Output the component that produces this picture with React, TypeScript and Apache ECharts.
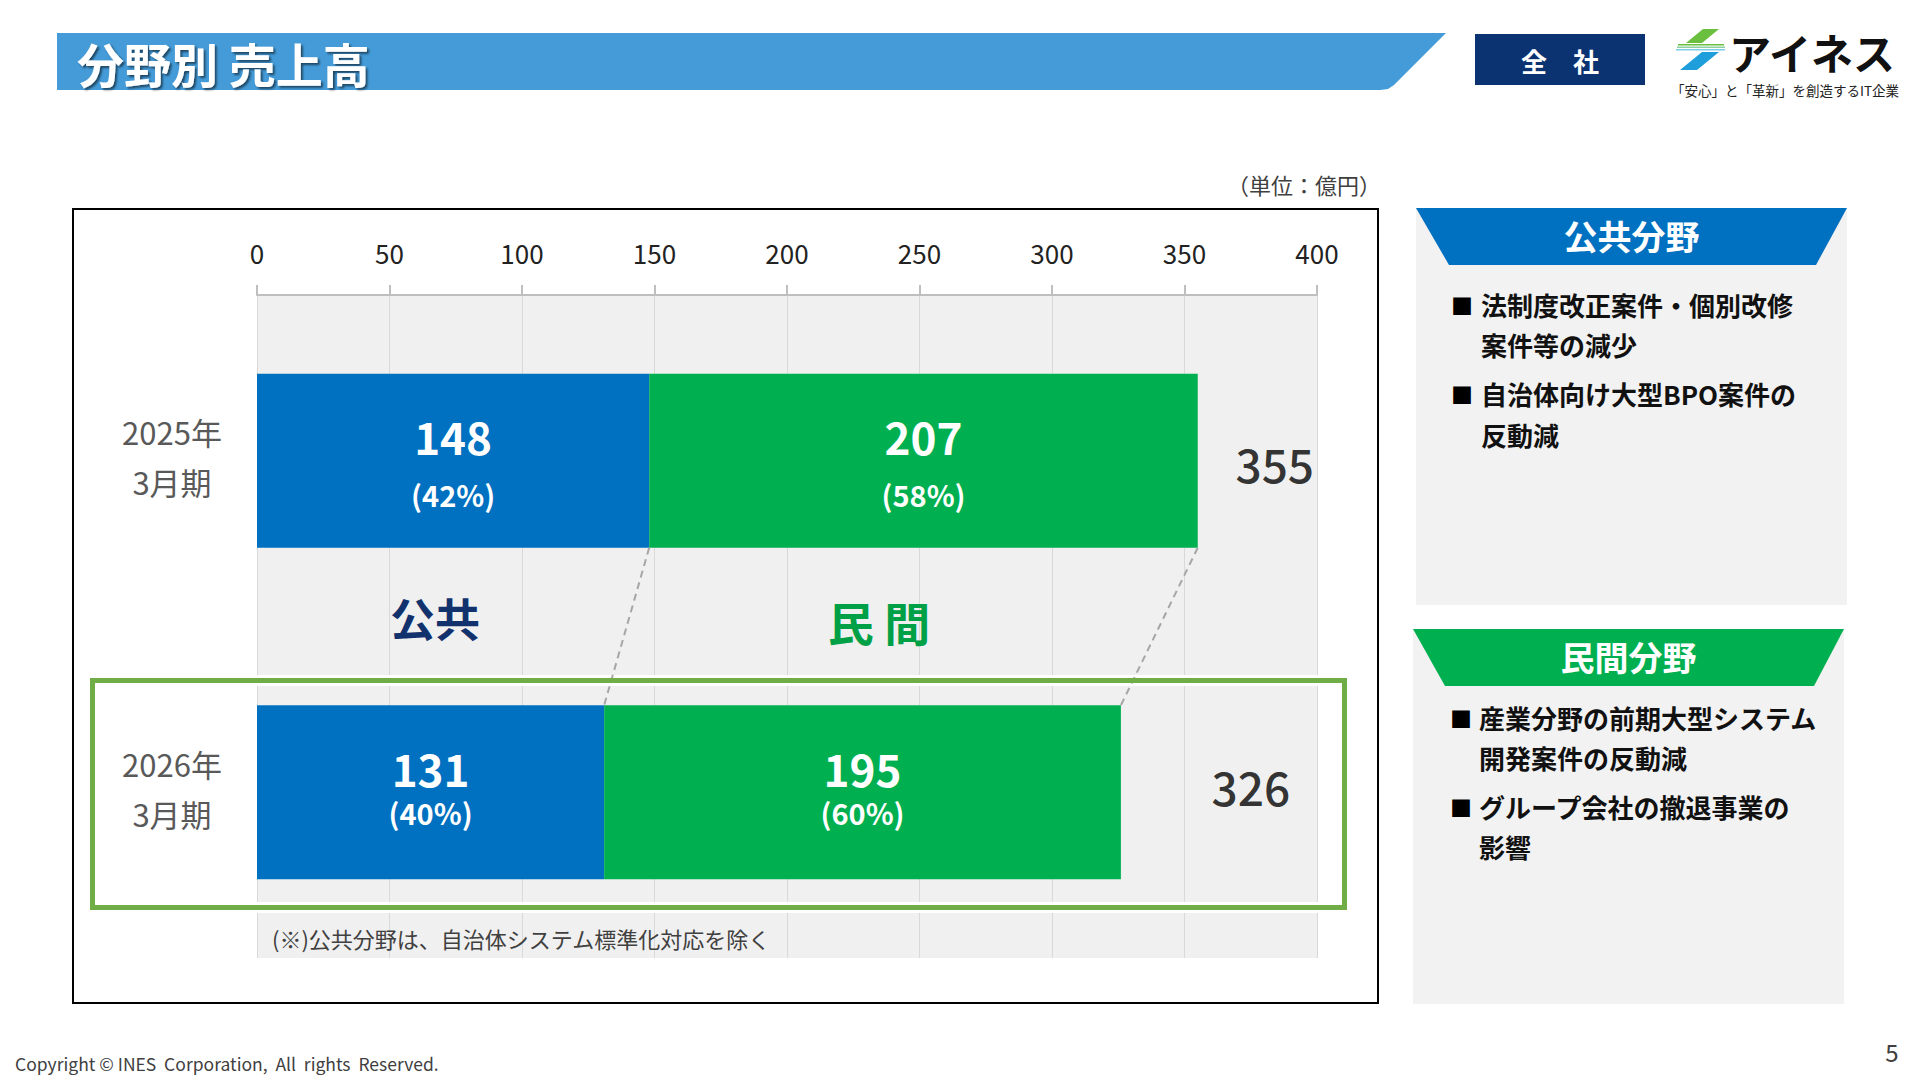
import React, { useEffect, useRef } from "react";
import * as echarts from "echarts";

// ---- data ----
const categories = ["2025年\n3月期", "2026年\n3月期"];
const publicValues = [148, 131];
const privateValues = [207, 195];
const totals = [355, 326];
const publicShares = ["42%", "40%"];
const privateShares = ["58%", "60%"];
const xMin = 0;
const xMax = 400;
const xInterval = 50;

const publicBullets = [
  ["法制度改正案件・個別改修", "案件等の減少"],
  ["自治体向け大型BPO案件の", "反動減"],
];
const privateBullets = [
  ["産業分野の前期大型システム", "開発案件の反動減"],
  ["グループ会社の撤退事業の", "影響"],
];

const FONT = "'Noto Sans CJK JP', 'Noto Sans', sans-serif";
const BAR_WIDTH = 174;
const labelLineHeights = [58, 44];
const labelOffsets = [4, -2];
const totalOffsets = [
  [77, 2],
  [130, -6],
];

function txt(x: number, y: number, text: string, opts: any = {}, z = 10) {
  return {
    type: "text",
    x,
    y,
    z,
    silent: true,
    style: {
      text,
      fontFamily: FONT,
      fontSize: 20,
      fill: "#000",
      align: "left",
      verticalAlign: "middle",
      ...opts,
    },
  };
}

function barLabel(i: number, share: string) {
  const lh = labelLineHeights[i];
  return {
    show: true,
    position: "inside",
    offset: [0, labelOffsets[i]],
    formatter: (p: any) => `{v|${p.value}}\n{p|(${share})}`,
    rich: {
      v: { fontSize: 44, fontWeight: "bold", color: "#fff", lineHeight: lh, fontFamily: FONT },
      p: { fontSize: 29, fontWeight: "bold", color: "#fff", lineHeight: lh, fontFamily: FONT },
    },
  };
}

function panel(
  x: number,
  y: number,
  w: number,
  h: number,
  headH: number,
  inset: number,
  color: string,
  title: string,
  bullets: string[][],
  bulletX: number,
  textX: number,
  lineCenters: number[]
) {
  const els: any[] = [
    { type: "rect", shape: { x, y, width: w, height: h }, style: { fill: "#f2f2f2" }, z: 1, silent: true },
    {
      type: "polygon",
      shape: {
        points: [
          [x, y],
          [x + w, y],
          [x + w - inset + 2, y + headH],
          [x + inset, y + headH],
        ],
      },
      style: { fill: color },
      z: 2,
      silent: true,
    },
    txt(x + w / 2, y + headH / 2 - 1, title, {
      fontSize: 34,
      fontWeight: "bold",
      fill: "#fff",
      align: "center",
    }),
  ];
  bullets.forEach((b, bi) => {
    els.push(txt(bulletX, lineCenters[bi * 2], "■", { fontSize: 22, fill: "#000" }));
    b.forEach((line, li) => {
      els.push(
        txt(textX, lineCenters[bi * 2 + li], line, {
          fontSize: 26,
          fontWeight: "bold",
          fill: "#111",
        })
      );
    });
  });
  return els;
}

export default function App() {
  const ref = useRef<HTMLDivElement>(null);

  useEffect(() => {
    document.body.style.margin = "0";
    if (!ref.current) return;
    const chart = echarts.init(ref.current, null, { renderer: "svg" });

    const connectors = [
      [publicValues[0], publicValues[1], 0],
      [totals[0], totals[1], 0],
    ];

    const graphic: any[] = [
      // title bar
      {
        type: "polygon",
        shape: {
          points: [
            [57, 33],
            [1446, 33],
            [1394, 85],
            [1388, 89],
            [1380, 90],
            [57, 90],
          ],
        },
        style: { fill: "#449bd8" },
        z: 1,
        silent: true,
      },
      txt(77, 62, "分野別 売上高", {
        fontSize: 47,
        fontWeight: "bold",
        fill: "#fff",
        textShadowColor: "rgba(0,0,0,0.55)",
        textShadowBlur: 2,
        textShadowOffsetX: 2,
        textShadowOffsetY: 2,
      }),
      // 全社 box
      { type: "rect", shape: { x: 1475, y: 34, width: 170, height: 51 }, style: { fill: "#0b3372" }, z: 1, silent: true },
      txt(1560, 60, "全　社", { fontSize: 26, fontWeight: "bold", fill: "#fff", align: "center" }),
      // logo icon
      {
        type: "polygon",
        shape: { points: [[1703, 29], [1719, 29], [1702, 43], [1686, 43]] },
        style: { fill: "#6abf3e" },
        z: 2,
        silent: true,
      },
      { type: "rect", shape: { x: 1678, y: 44, width: 46, height: 1.5 }, style: { fill: "#6abf3e" }, z: 2, silent: true },
      { type: "rect", shape: { x: 1677, y: 46.5, width: 48, height: 1.5 }, style: { fill: "#8fd0a0" }, z: 2, silent: true },
      { type: "rect", shape: { x: 1676, y: 49, width: 49, height: 1.5 }, style: { fill: "#7fcbe8" }, z: 2, silent: true },
      {
        type: "polygon",
        shape: { points: [[1702, 52], [1719, 52], [1697, 70], [1680, 70]] },
        style: { fill: "#1e9fdb" },
        z: 2,
        silent: true,
      },
      txt(1729, 51, "アイネス", { fontSize: 42, fontWeight: "bold", fill: "#111" }),
      txt(1671, 90, "「安心」と「革新」を創造するIT企業", { fontSize: 13.5, fill: "#222" }),
      // unit
      txt(1381, 184, "（単位：億円）", { fontSize: 22, fill: "#404040", align: "right" }),
      // chart frame
      {
        type: "rect",
        shape: { x: 73, y: 209, width: 1305, height: 794 },
        style: { fill: "none", stroke: "#000", lineWidth: 2 },
        z: 3,
        silent: true,
      },
      // highlight rect
      {
        type: "rect",
        shape: { x: 92.5, y: 680.5, width: 1252, height: 227 },
        style: { fill: "none", stroke: "#ffffff", lineWidth: 11 },
        z: 4,
        silent: true,
      },
      {
        type: "rect",
        shape: { x: 92.5, y: 680.5, width: 1252, height: 227 },
        style: { fill: "none", stroke: "#70ad47", lineWidth: 5 },
        z: 5,
        silent: true,
      },
      // section labels
      txt(435, 617, "公共", { fontSize: 45, fontWeight: "bold", fill: "#12326e", align: "center" }),
      txt(879, 621, "民 間", { fontSize: 46, fontWeight: "bold", fill: "#00a047", align: "center" }),
      // footnote
      txt(272, 938, "(※)公共分野は、自治体システム標準化対応を除く", { fontSize: 22, fill: "#404040" }),
      // footer
      txt(15, 1063, "Copyright © INES  Corporation,  All  rights  Reserved.", { fontSize: 17.5, fill: "#404040" }),
      txt(1892, 1051, "5", { fontSize: 24, fill: "#404040", align: "center" }),
      ...panel(1416, 208, 431, 397, 57, 33, "#0070c0", "公共分野", publicBullets, 1451, 1481, [304, 344, 393, 434]),
      ...panel(1413, 629, 431, 375, 57, 32, "#00b050", "民間分野", privateBullets, 1450, 1479, [717, 757, 806, 846]),
    ];

    chart.setOption({
      animation: false,
      textStyle: { fontFamily: FONT },
      grid: {
        left: 257,
        top: 295,
        width: 1060,
        height: 663,
        show: true,
        backgroundColor: "#f0f0f0",
        borderWidth: 0,
      },
      xAxis: {
        type: "value",
        position: "top",
        min: xMin,
        max: xMax,
        interval: xInterval,
        axisLine: { show: true, lineStyle: { color: "#bfbfbf", width: 2 } },
        axisTick: { show: true, length: 10, lineStyle: { color: "#bfbfbf", width: 2 } },
        axisLabel: { fontSize: 26, color: "#222", margin: 30, fontFamily: FONT },
        splitLine: { show: true, lineStyle: { color: "#d9d9d9", width: 1 } },
      },
      yAxis: {
        type: "category",
        inverse: true,
        data: categories,
        axisLine: { show: false },
        axisTick: { show: false },
        splitLine: { show: false },
        axisLabel: {
          align: "center",
          margin: 85,
          formatter: (v: string) =>
            v
              .split("\n")
              .map((s) => `{c|${s}}`)
              .join("\n"),
          rich: {
            c: {
              fontSize: 31,
              lineHeight: 50,
              color: "#595959",
              fontFamily: FONT,
              padding: [0, 0, 8, 0],
            },
          },
        },
      },
      series: [
        {
          type: "bar",
          name: "公共",
          stack: "total",
          barWidth: BAR_WIDTH,
          itemStyle: { color: "#0070c0" },
          data: publicValues.map((v, i) => ({ value: v, label: barLabel(i, publicShares[i]) })),
          silent: true,
        },
        {
          type: "bar",
          name: "民間",
          stack: "total",
          barWidth: BAR_WIDTH,
          itemStyle: { color: "#00b050" },
          data: privateValues.map((v, i) => ({ value: v, label: barLabel(i, privateShares[i]) })),
          silent: true,
        },
        {
          type: "scatter",
          name: "合計",
          symbolSize: 0,
          silent: true,
          z: 5,
          data: totals.map((v, i) => ({
            value: [v, i],
            label: { offset: totalOffsets[i] },
          })),
          label: {
            show: true,
            position: "inside",
            formatter: (p: any) => String(p.value[0]),
            fontSize: 46,
            fontWeight: 500,
            color: "#000",
            fontFamily: FONT,
          },
        },
        {
          type: "custom",
          name: "connector",
          silent: true,
          z: 4,
          encode: { x: [0, 1], y: 2 },
          data: connectors,
          renderItem: (params: any, api: any) => {
            const a = api.coord([api.value(0), 0]);
            const b = api.coord([api.value(1), 1]);
            const half = BAR_WIDTH / 2;
            return {
              type: "line",
              shape: { x1: a[0], y1: a[1] + half, x2: b[0], y2: b[1] - half },
              style: { stroke: "#a6a6a6", lineWidth: 2, lineDash: [7, 5] },
            };
          },
        },
      ],
      graphic,
    });

    return () => chart.dispose();
  }, []);

  return <div ref={ref} style={{ width: 1920, height: 1080, background: "#fff" }} />;
}
